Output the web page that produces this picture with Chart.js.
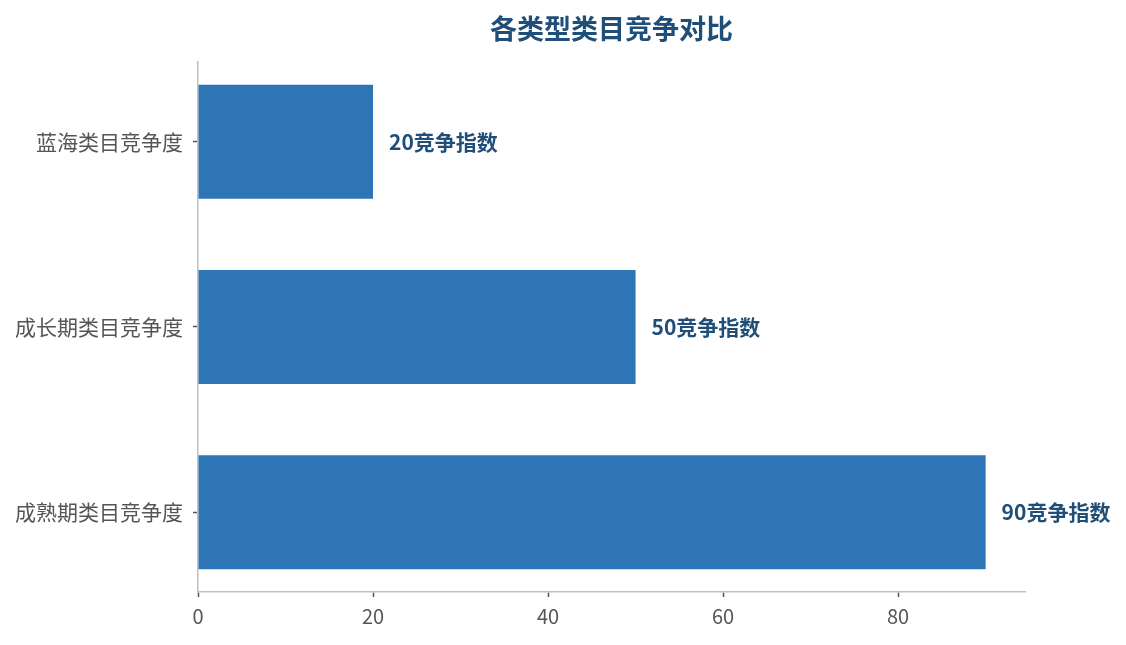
<!DOCTYPE html>
<html><head><meta charset="utf-8">
<script src="https://cdn.jsdelivr.net/npm/chart.js@4"></script>
<style>html,body{margin:0;padding:0;background:#fff;}#wrap{width:1126px;height:645px;}</style>
</head><body><div id="wrap"><canvas id="c"></canvas></div>
<script>
const categories = ['蓝海类目竞争度', '成长期类目竞争度', '成熟期类目竞争度'];
const values = [20, 50, 90];
const valueSuffix = '竞争指数';
const titleText = '各类型类目竞争对比';
const xTicks = [0, 20, 40, 60, 80];

const FONT = '"Noto Sans CJK SC", "Noto Sans", sans-serif';

const overlay = {
  id: 'overlay',
  afterDatasetsDraw(chart) {
    const ctx = chart.ctx, ca = chart.chartArea;
    ctx.save();
    ctx.fillStyle = '#1f4e79';
    ctx.font = 'bold 27px ' + FONT;
    ctx.textAlign = 'center';
    ctx.textBaseline = 'middle';
    ctx.fillText(titleText, (ca.left + ca.right) / 2, 29);
    const meta = chart.getDatasetMeta(0);
    ctx.font = 'bold 21px ' + FONT;
    ctx.textAlign = 'left';
    meta.data.forEach((bar, i) => {
      ctx.fillText(values[i] + valueSuffix, bar.x + 16, bar.y);
    });
    ctx.restore();
  }
};

new Chart(document.getElementById('c'), {
  type: 'bar',
  data: {
    datasets: [{
      data: values.map((v, i) => ({ x: v, y: i })),
      backgroundColor: '#2e75b6',
      borderWidth: 0,
      categoryPercentage: 1,
      barPercentage: 0.615
    }]
  },
  options: {
    indexAxis: 'y',
    responsive: true,
    maintainAspectRatio: false,
    animation: false,
    layout: { padding: { top: 62, right: 101, left: 0, bottom: 0 } },
    plugins: { legend: { display: false }, tooltip: { enabled: false } },
    scales: {
      x: {
        type: 'linear', min: 0, max: 94.5,
        afterBuildTicks: s => { s.ticks = xTicks.map(v => ({ value: v })); },
        afterFit: s => { s.height = 53; },
        border: { color: '#c0c0c0', width: 1.5 },
        grid: { drawOnChartArea: false, color: '#555', tickLength: 5, tickWidth: 1.5 },
        ticks: { color: '#555', font: { family: FONT, size: 20 }, padding: 7 }
      },
      y: {
        type: 'linear', min: -0.43, max: 2.43, reverse: true, offset: false,
        afterBuildTicks: s => { s.ticks = categories.map((c, i) => ({ value: i })); },
        afterFit: s => { s.width = 198; },
        border: { color: '#c0c0c0', width: 1.5 },
        grid: { drawOnChartArea: false, offset: false, color: '#555', tickLength: 5, tickWidth: 1.5 },
        ticks: { color: '#555', font: { family: FONT, size: 21 }, padding: 10,
                 callback: v => categories[v] }
      }
    }
  },
  plugins: [overlay]
});
</script></body></html>
